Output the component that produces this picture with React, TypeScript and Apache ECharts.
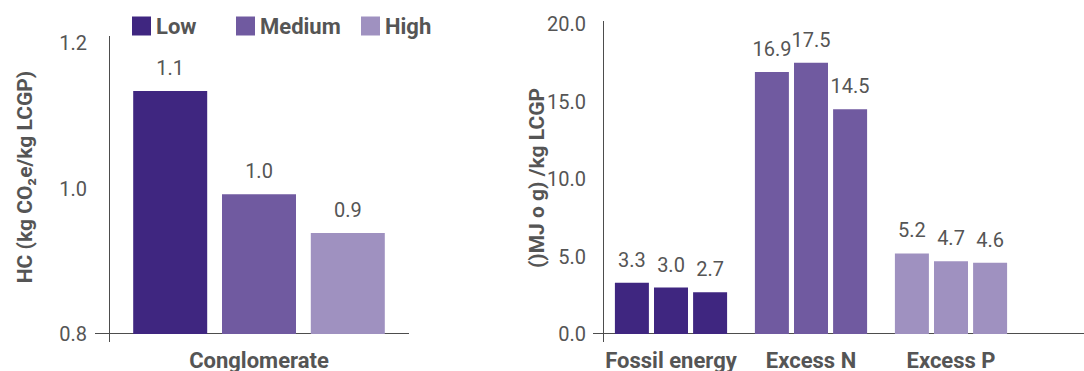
import React, { useEffect, useRef } from "react";
import * as echarts from "echarts";

// Footprint by intensity level
const levels = ["Low", "Medium", "High"];
const levelColors = ["#3f2680", "#705aa0", "#9f91c0"];

// Left panel: carbon footprint of the conglomerate
const hcCategories = ["Conglomerate"];
const hcLow = [1.134];
const hcMedium = [0.992];
const hcHigh = [0.939];
const hcTicks = { min: 0.8, max: 1.2, interval: 0.2 };

// Right panel: energy and nutrient indicators
const indCategories = ["Fossil energy", "Excess N", "Excess P"];
const indLow = [3.3, 16.9, 5.2];
const indMedium = [3.0, 17.5, 4.7];
const indHigh = [2.7, 14.5, 4.6];
const indTicks = { min: 0, max: 20, interval: 5 };

const TEXT = "#555555";
const AXIS = "#4d4d4d";
const FONT = "Roboto";

// Grid frames (pixels)
const G1 = { left: 109, top: 43, width: 300, height: 291 };
const G2 = { left: 601, top: 24, width: 420, height: 310 };

export default function App() {
  const ref = useRef<HTMLDivElement>(null);

  useEffect(() => {
    const chart = echarts.init(ref.current!, undefined, { renderer: "svg" });

    const valueLabel = {
      show: true,
      position: "top" as const,
      distance: 13,
      fontSize: 20,
      fontFamily: FONT,
      color: TEXT,
      formatter: (p: any) => Number(p.value).toFixed(1),
    };

    const leftSeries = [hcLow, hcMedium, hcHigh].map((vals, i) => ({
      name: levels[i],
      type: "bar",
      xAxisIndex: 0,
      yAxisIndex: 0,
      barWidth: 74,
      barGap: "20%",
      itemStyle: { color: levelColors[i] },
      label: valueLabel,
      data: vals,
    }));

    const rightSeries = [indLow, indMedium, indHigh].map((vals, i) => ({
      name: levels[i],
      type: "bar",
      xAxisIndex: 1,
      yAxisIndex: 1,
      barWidth: 34,
      barGap: "15%",
      label: valueLabel,
      data: vals.map((v, c) => ({ value: v, itemStyle: { color: levelColors[c] } })),
    }));

    const yLabel = (margin: number) => ({
      fontSize: 20,
      fontFamily: FONT,
      color: TEXT,
      margin,
      formatter: (v: number) => v.toFixed(1),
    });

    const xLabel = {
      fontSize: 22,
      fontFamily: FONT,
      fontWeight: "bold" as const,
      color: TEXT,
      margin: 15,
      interval: 0,
    };

    const legendText = {
      fontSize: 22,
      fontFamily: FONT,
      fontWeight: "bold" as const,
      color: TEXT,
    };
    const legendLefts = [132, 236, 361];

    const hLine = (x1: number, x2: number, y: number) => ({
      type: "line",
      shape: { x1, y1: y, x2, y2: y },
      style: { stroke: AXIS, lineWidth: 1 },
      silent: true,
    });
    const vLine = (x: number, y1: number, y2: number) => ({
      type: "line",
      shape: { x1: x, y1, x2: x, y2 },
      style: { stroke: AXIS, lineWidth: 1 },
      silent: true,
    });
    const titleText = (x: number, y: number, text: string) => ({
      type: "text",
      x,
      y,
      rotation: Math.PI / 2,
      style: {
        text,
        align: "center",
        verticalAlign: "middle",
        fontSize: 21,
        fontFamily: FONT,
        fontWeight: "bold",
        fill: TEXT,
      },
      silent: true,
    });

    const b1 = G1.top + G1.height - 0.5;
    const b2 = G2.top + G2.height - 0.5;

    chart.setOption({
      animation: false,
      legend: levels.map((name, i) => ({
        data: [name],
        left: legendLefts[i],
        top: 15,
        padding: 0,
        icon: "rect",
        itemWidth: 19,
        itemHeight: 19,
        itemGap: 6,
        textStyle: legendText,
        selectedMode: false,
      })),
      grid: [G1, G2],
      xAxis: [
        {
          type: "category",
          gridIndex: 0,
          data: hcCategories,
          axisLine: { show: false },
          axisTick: { show: false },
          axisLabel: xLabel,
        },
        {
          type: "category",
          gridIndex: 1,
          data: indCategories,
          axisLine: { show: false },
          axisTick: { show: false },
          axisLabel: xLabel,
        },
      ],
      yAxis: [
        {
          type: "value",
          gridIndex: 0,
          ...hcTicks,
          axisLine: { show: false },
          axisTick: { show: false },
          splitLine: { show: false },
          axisLabel: yLabel(22),
        },
        {
          type: "value",
          gridIndex: 1,
          ...indTicks,
          axisLine: { show: false },
          axisTick: { show: false },
          splitLine: { show: false },
          axisLabel: yLabel(15),
        },
      ],
      series: [...leftSeries, ...rightSeries],
      graphic: [
        vLine(G1.left + 0.5, 36, 342),
        hLine(95, G1.left + G1.width, b1),
        vLine(603.5, 21, 342),
        hLine(593, 1084, b2),
        titleText(25, 177, "HC (kg CO\u2082e/kg LCGP)"),
        titleText(537, 178, "()MJ o g) /kg LCGP"),
      ],
    });

    return () => chart.dispose();
  }, []);

  return (
    <div
      ref={ref}
      style={{ position: "fixed", left: 0, top: 0, width: 1084, height: 371, background: "#fff" }}
    />
  );
}
